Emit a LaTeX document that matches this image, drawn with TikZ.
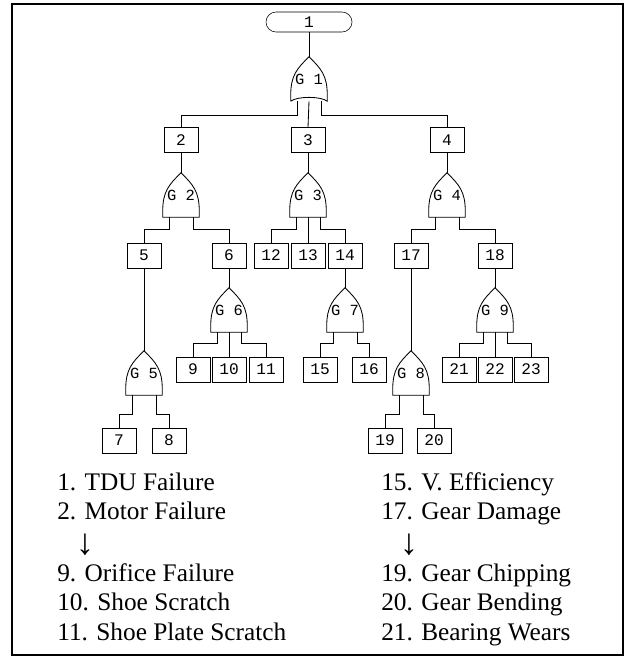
\documentclass[tikz,border=0pt]{standalone}
\usepackage{fontspec}
\setmainfont{Liberation Serif}
\newfontfamily\treefont{Liberation Mono}
\usetikzlibrary{calc}

\tikzset{
  evt/.style={draw, minimum width=0.85cm, minimum height=0.625cm, inner sep=0pt,
    font=\treefont\fontsize{11.5}{13}\selectfont},
  topevt/.style={draw, rounded corners=0.25cm, minimum width=2.15cm, minimum height=0.5cm,
    inner sep=0pt, font=\treefont\fontsize{11.5}{13}\selectfont},
  gatebox/.style={minimum width=0.9cm, minimum height=1.1cm, inner sep=0pt,
    font=\treefont\fontsize{11}{12}\selectfont},
  wire/.style={line width=0.6pt},
  legend/.style={anchor=west, inner sep=0pt, text height=0.7em, text depth=0.2em,
    font=\rmfamily\fontsize{18}{21}\selectfont},
  downarrow/.style={inner sep=0pt, font=\rmfamily\fontsize{26}{28}\selectfont}
}

% OR gate: name, x, y, label
\newcommand{\orgate}[4]{%
  \node[gatebox] (#1) at (#2,#3) {#4};
  \draw[wire] (#1.south west) -- ++(0,0.15cm)
    .. controls +(0,0.5cm) and +(-0.3cm,-0.3cm) .. (#1.north)
    .. controls +(0.3cm,-0.3cm) and +(0,0.5cm) .. ([yshift=0.15cm]#1.south east)
    -- (#1.south east) -- cycle;
}

\begin{document}
\begin{tikzpicture}[x=0.025cm, y=-0.025cm]
  \useasboundingbox (0,0) rectangle (627,657);
  \draw[line width=1pt] (12,4) rectangle (623,655);

  % top event and first gate
  \node[topevt] (top) at (309,22) {1};
  \node[gatebox] (g1) at (309,79) {G 1};
  \draw[wire] (g1.south west) -- ++(0,0.15cm)
    .. controls +(0,0.5cm) and +(-0.3cm,-0.3cm) .. (g1.north)
    .. controls +(0.3cm,-0.3cm) and +(0,0.5cm) .. ([yshift=0.15cm]g1.south east)
    -- (g1.south east) .. controls +(-0.15cm,0.13cm) and +(0.15cm,0.13cm) .. (g1.south west);
  \draw[wire] (top.south) -- (g1.north);

  % second level
  \node[evt] (b2) at (181,140) {2};
  \node[evt] (b3) at (308,140) {3};
  \node[evt] (b4) at (447,140) {4};
  \draw[wire] ([xshift=-0.3cm]g1.south) |- ([yshift=0.3cm]b2.north) -- (b2.north);
  \draw[wire] (g1.south) -- (b3.north);
  \draw[wire] ([xshift=0.3cm]g1.south) |- ([yshift=0.3cm]b4.north) -- (b4.north);

  \orgate{g2}{181}{195}{G 2}
  \orgate{g3}{308}{195}{G 3}
  \orgate{g4}{447}{195}{G 4}
  \draw[wire] (b2.south) -- (g2.north);
  \draw[wire] (b3.south) -- (g3.north);
  \draw[wire] (b4.south) -- (g4.north);

  % third level
  \node[evt] (b5) at (144,255.5) {5};
  \node[evt] (b6) at (229,255.5) {6};
  \node[evt] (b12) at (271,255.5) {12};
  \node[evt] (b13) at (308,255.5) {13};
  \node[evt] (b14) at (345,255.5) {14};
  \node[evt] (b17) at (411,255.5) {17};
  \node[evt] (b18) at (495,255.5) {18};
  \draw[wire] ([xshift=-0.3cm]g2.south) |- ([yshift=0.325cm]b5.north) -- (b5.north);
  \draw[wire] ([xshift=0.3cm]g2.south) |- ([yshift=0.325cm]b6.north) -- (b6.north);
  \draw[wire] ([xshift=-0.3cm]g3.south) |- ([yshift=0.325cm]b12.north) -- (b12.north);
  \draw[wire] (g3.south) -- (b13.north);
  \draw[wire] ([xshift=0.3cm]g3.south) |- ([yshift=0.325cm]b14.north) -- (b14.north);
  \draw[wire] ([xshift=-0.3cm]g4.south) |- ([yshift=0.325cm]b17.north) -- (b17.north);
  \draw[wire] ([xshift=0.3cm]g4.south) |- ([yshift=0.325cm]b18.north) -- (b18.north);

  \orgate{g5}{144}{373}{G 5}
  \orgate{g6}{229}{310}{G 6}
  \orgate{g7}{345}{310}{G 7}
  \orgate{g8}{411}{373}{G 8}
  \orgate{g9}{495}{310}{G 9}
  \draw[wire] (b5.south) -- (g5.north);
  \draw[wire] (b6.south) -- (g6.north);
  \draw[wire] (b14.south) -- (g7.north);
  \draw[wire] (b17.south) -- (g8.north);
  \draw[wire] (b18.south) -- (g9.north);

  % basic events
  \node[evt] (b9) at (193,369.5) {9};
  \node[evt] (b10) at (229,369.5) {10};
  \node[evt] (b11) at (266,369.5) {11};
  \node[evt] (b15) at (320,369.5) {15};
  \node[evt] (b16) at (369,369.5) {16};
  \node[evt] (b21) at (459,369.5) {21};
  \node[evt] (b22) at (495,369.5) {22};
  \node[evt] (b23) at (531,369.5) {23};
  \node[evt] (b7) at (119,440.5) {7};
  \node[evt] (b8) at (169,440.5) {8};
  \node[evt] (b19) at (385,440.5) {19};
  \node[evt] (b20) at (434,440.5) {20};

  \draw[wire] ([xshift=-0.3cm]g6.south) |- ([yshift=0.325cm]b9.north) -- (b9.north);
  \draw[wire] (g6.south) -- (b10.north);
  \draw[wire] ([xshift=0.3cm]g6.south) |- ([yshift=0.325cm]b11.north) -- (b11.north);
  \draw[wire] ([xshift=-0.3cm]g7.south) |- ([yshift=0.325cm]b15.north) -- (b15.north);
  \draw[wire] ([xshift=0.3cm]g7.south) |- ([yshift=0.325cm]b16.north) -- (b16.north);
  \draw[wire] ([xshift=-0.3cm]g9.south) |- ([yshift=0.325cm]b21.north) -- (b21.north);
  \draw[wire] (g9.south) -- (b22.north);
  \draw[wire] ([xshift=0.3cm]g9.south) |- ([yshift=0.325cm]b23.north) -- (b23.north);
  \draw[wire] ([xshift=-0.3cm]g5.south) |- ([yshift=0.325cm]b7.north) -- (b7.north);
  \draw[wire] ([xshift=0.3cm]g5.south) |- ([yshift=0.325cm]b8.north) -- (b8.north);
  \draw[wire] ([xshift=-0.3cm]g8.south) |- ([yshift=0.325cm]b19.north) -- (b19.north);
  \draw[wire] ([xshift=0.3cm]g8.south) |- ([yshift=0.325cm]b20.north) -- (b20.north);

  % legend
  \node[legend] (l1) at (57,487) {1. TDU Failure};
  \node[legend] (l2) at (57,516) {2. Motor Failure};
  \node[downarrow] (l3) at (85,545) {↓};
  \node[legend] (l4) at (57,578) {9. Orifice Failure};
  \node[legend] (l5) at (57,607) {10. Shoe Scratch};
  \node[legend] (l6) at (57,637) {11. Shoe Plate Scratch};
  \node[legend] (r1) at (381,487) {15. V. Efficiency};
  \node[legend] (r2) at (381,516) {17. Gear Damage};
  \node[downarrow] (r3) at (409,545) {↓};
  \node[legend] (r4) at (381,578) {19. Gear Chipping};
  \node[legend] (r5) at (381,607) {20. Gear Bending};
  \node[legend] (r6) at (381,637) {21. Bearing Wears};
\end{tikzpicture}
\end{document}
